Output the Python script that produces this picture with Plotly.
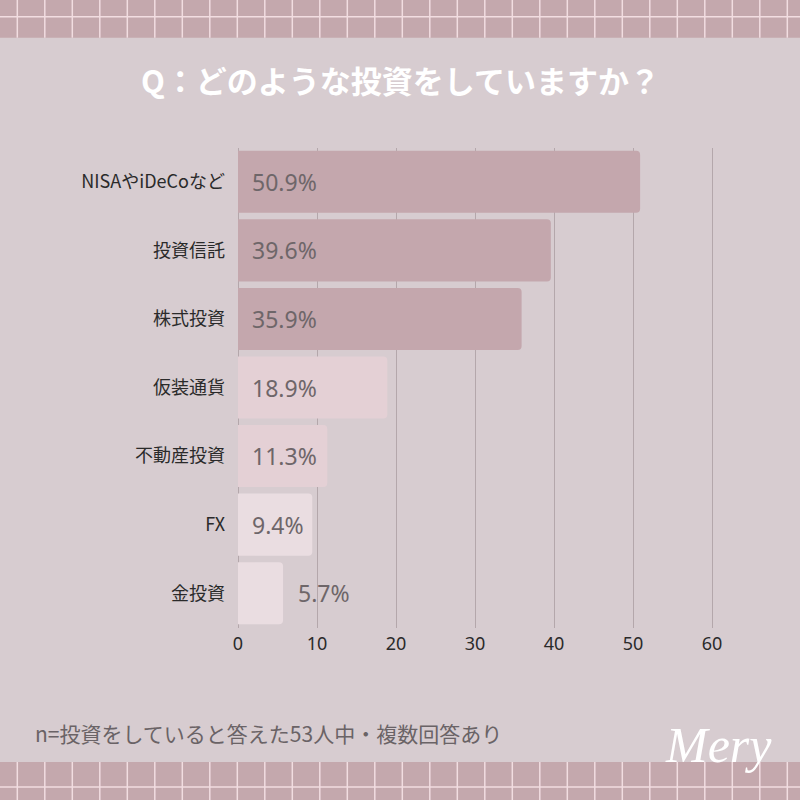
import plotly.graph_objects as go

categories = ["NISAやiDeCoなど", "投資信託", "株式投資", "仮装通貨", "不動産投資", "FX", "金投資"]
values = [50.9, 39.6, 35.9, 18.9, 11.3, 9.4, 5.7]
value_labels = ["50.9%", "39.6%", "35.9%", "18.9%", "11.3%", "9.4%", "5.7%"]
bar_colors = ["#c4a7ad", "#c4a7ad", "#c4a7ad", "#e4d0d5", "#e4d0d5", "#eadde1", "#eadde1"]
x_ticks = [0, 10, 20, 30, 40, 50, 60]

title_text = "Q：どのような投資をしていますか？"
note_text = "n=投資をしていると答えた53人中・複数回答あり"
logo_text = "Mery"

BG = "#d7ccd0"
BAND = "#c4a8ad"
BAND_LINE = "#f2dde1"
FONT = "Noto Sans CJK JP"
W = H = 800

def px_x(p):
    return p / W

def px_y(p):
    return 1 - p / H

fig = go.Figure()
fig.add_trace(go.Bar(
    x=values, y=categories, orientation="h",
    marker=dict(color=bar_colors, line=dict(width=0), cornerradius=4),
    hoverinfo="skip",
))

annotations = []
for cat, v, lab in zip(categories, values, value_labels):
    inside = v > 8
    annotations.append(dict(
        x=0 if inside else v, y=cat,
        xref="x", yref="y", text=lab, showarrow=False,
        xanchor="left", yanchor="middle",
        xshift=12 if inside else 13,
        font=dict(family="Noto Sans", size=23, color="#6e6669"),
    ))

annotations.append(dict(
    x=0.5, y=px_y(80), xref="paper", yref="paper", text="<b>" + title_text + "</b>",
    showarrow=False, xanchor="center", yanchor="middle",
    font=dict(family=FONT, size=31, color="#ffffff"),
))
annotations.append(dict(
    x=px_x(33), y=px_y(733), xref="paper", yref="paper", text=note_text,
    showarrow=False, xanchor="left", yanchor="middle",
    font=dict(family=FONT, size=21, color="#6a6366"),
))
annotations.append(dict(
    x=px_x(718), y=px_y(745), xref="paper", yref="paper", text="<i>" + logo_text + "</i>",
    showarrow=False, xanchor="center", yanchor="middle",
    font=dict(family="Liberation Serif", size=50, color="#ffffff"),
))

shapes = []
# top and bottom decorative grid bands
for (y0, y1, yline) in [(0, 37.7, 16.7), (762, 800, 787)]:
    shapes.append(dict(type="rect", xref="paper", yref="paper",
                       x0=0, x1=1, y0=px_y(y1), y1=px_y(y0),
                       fillcolor=BAND, line=dict(width=0), layer="above"))
    shapes.append(dict(type="line", xref="paper", yref="paper",
                       x0=0, x1=1, y0=px_y(yline), y1=px_y(yline),
                       line=dict(color=BAND_LINE, width=1.5), layer="above"))
    xp = 17.3
    while xp < W:
        shapes.append(dict(type="line", xref="paper", yref="paper",
                           x0=px_x(xp), x1=px_x(xp), y0=px_y(y1), y1=px_y(y0),
                           line=dict(color=BAND_LINE, width=1.5), layer="above"))
        xp += 27.5

fig.update_layout(
    width=W, height=H,
    paper_bgcolor=BG, plot_bgcolor=BG,
    margin=dict(l=0, r=0, t=0, b=0),
    showlegend=False,
    bargap=0.095,
    annotations=annotations,
    shapes=shapes,
    xaxis=dict(
        domain=[px_x(238), px_x(238 + 61 * 7.9)],
        range=[0, 61], tickvals=x_ticks, ticktext=[str(t) for t in x_ticks],
        showgrid=True, gridcolor="#b4a7ab", gridwidth=1,
        zeroline=True, zerolinecolor="#b4a7ab", zerolinewidth=1,
        showline=False, ticks="", ticklabelstandoff=3, automargin=False,
        tickfont=dict(family="Noto Sans", size=18, color="#2a2a2a"),
        fixedrange=True,
    ),
    yaxis=dict(
        domain=[px_y(627.5), px_y(147.5)],
        categoryorder="array", categoryarray=categories, autorange="reversed",
        showgrid=False, zeroline=False, showline=False, ticks="",
        ticklabelstandoff=12, automargin=False,
        tickfont=dict(family=FONT, size=18, color="#2a2a2a"),
        fixedrange=True,
    ),
)

fig.write_html("out.html", config={"displayModeBar": False},
               post_script="document.body.style.margin='0';")
